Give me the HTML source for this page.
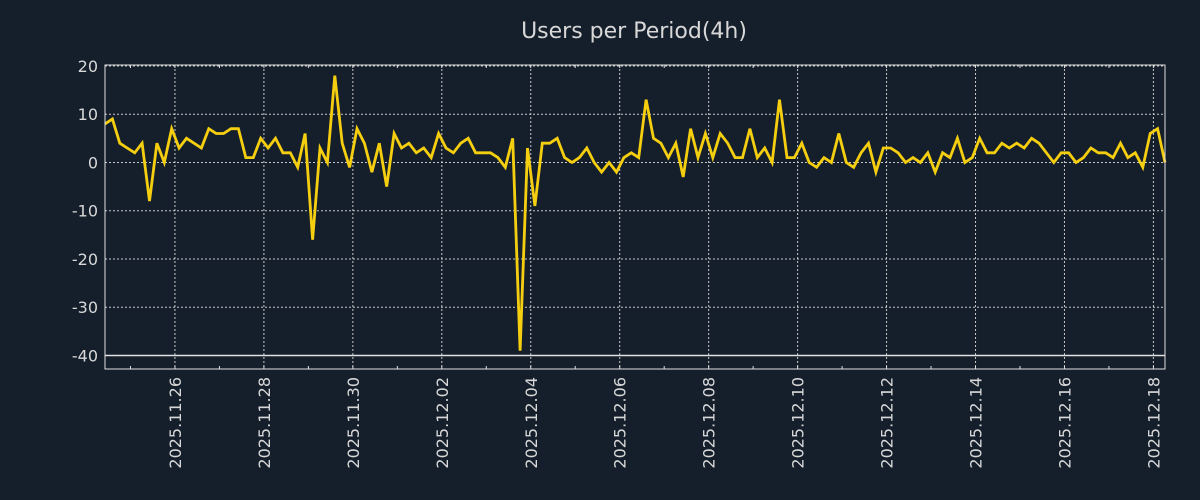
<!DOCTYPE html>
<html><head><meta charset="utf-8"><style>
html,body{margin:0;padding:0;background:#151f2c;}
svg{display:block;font-family:"DejaVu Sans","Liberation Sans",sans-serif;}
</style></head><body>
<svg id="chart" width="1200" height="500" viewBox="0 0 1200 500">
<rect x="0" y="0" width="1200" height="500" fill="#151f2c"/>
<text x="634" y="38" text-anchor="middle" font-size="22" fill="#d8d8d8">Users per Period(4h)</text>
<g id="grid"></g>
<g id="series"></g>
<g id="axes"></g>
</svg>
<script>
const values = [8,9,4,3,2,4,-8,4,0,7,3,5,4,3,7,6,6,7,7,
1,1,5,3,5,2,2,-1,6,-16,3,0,18,4,
-1,7,4,-2,4,-5,6,3,4,2,3,1,6,3,2,
4,5,2,2,2,1,-1,5,-39,3,-9,4,4,5,
1,0,1,3,0,-2,0,-2,1,2,1,13,5,4,
1,4,-3,7,1,6,1,6,4,1,1,7,1,3,
0,13,1,1,4,0,-1,1,0,6,0,-1,2,4,
-2,3,3,2,0,1,0,2,-2,2,1,5,0,1,
5,2,2,4,3,4,3,5,4,2,0,2,2,0,
1,3,2,2,1,4,1,2,-1,6,7,0];
const startTime = Date.UTC(2025,10,24,10,15);
const stepHours = 4;
const yTicks = [20,10,0,-10,-20,-30,-40];
const xTickLabels = ["2025.11.26","2025.11.28","2025.11.30","2025.12.02","2025.12.04","2025.12.06","2025.12.08","2025.12.10","2025.12.12","2025.12.14","2025.12.16","2025.12.18"];

const NS="http://www.w3.org/2000/svg";
const L=105,R=1165,T=65,B=369;
const yMin=-42.8, yMax=20.2;
const endTime = startTime + (values.length-1)*stepHours*3600e3;
const xs = t => L + (t-startTime)/(endTime-startTime)*(R-L);
const ys = v => B - (v-yMin)/(yMax-yMin)*(B-T);
function mk(tag,attrs,parent){const e=document.createElementNS(NS,tag);for(const k in attrs)e.setAttribute(k,attrs[k]);parent.appendChild(e);return e;}
const grid=document.getElementById('grid'), axes=document.getElementById('axes'), series=document.getElementById('series');
const dateOf = s => {const p=s.split('.');return Date.UTC(+p[0],+p[1]-1,+p[2]);};

yTicks.forEach(v=>{
  const y=ys(v);
  const solid = v===-40;
  const g=mk('line',{x1:L,x2:R,y1:y,y2:y,stroke:solid?'#e0e0e0':'#c8c8c8','stroke-width':solid?1.5:1,'stroke-dasharray':solid?'none':'2,2'},grid);
  
  
  const t=mk('text',{x:L-7,y:y+6,'text-anchor':'end','font-size':16,fill:'#d8d8d8'},axes);
  t.textContent=v;
  
  
});
for(let d=Date.UTC(2025,10,25); d<=endTime; d+=86400e3){
  const x=xs(d); if(x<L||x>R) continue;
  const m=mk('line',{x1:x,x2:x,y1:T,y2:T+3,stroke:'#e0e0e0','stroke-width':1},axes);
  
  
  const m2=mk('line',{x1:x,x2:x,y1:B,y2:B-3,stroke:'#e0e0e0','stroke-width':1},axes);
  
  
}
xTickLabels.forEach(s=>{
  const x=xs(dateOf(s));
  const g=mk('line',{x1:x,x2:x,y1:T,y2:B,stroke:'#c8c8c8','stroke-width':1,'stroke-dasharray':'2,2'},grid);
  
  
  const t=mk('text',{x:0,y:0,'text-anchor':'end','font-size':16,fill:'#d8d8d8',transform:`translate(${x+6},${B+8}) rotate(-90)`},axes);
  t.textContent=s;
  
  
});
const frame=mk('rect',{x:L,y:T,width:R-L,height:B-T,fill:'none',stroke:'#e0e0e0','stroke-width':1},axes);



const pts=values.map((v,i)=>xs(startTime+i*stepHours*3600e3).toFixed(1)+','+ys(v).toFixed(1)).join(' ');
const line=mk('polyline',{points:pts,fill:'none',stroke:'#f5cf0f','stroke-width':2.8,'stroke-linejoin':'miter'},series);


</script>
</body></html>
